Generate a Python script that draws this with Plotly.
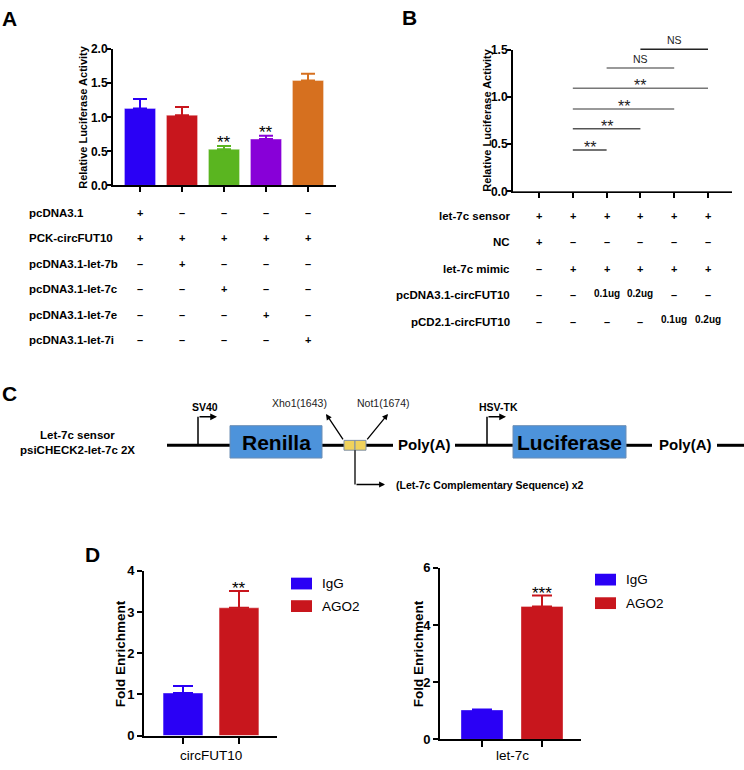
import plotly.graph_objects as go

W, H = 744, 770
FONT = "Arial, Liberation Sans, Helvetica, sans-serif"


def px(x):
    return x / W


def py(y):
    return 1 - y / H


# ---------------- data ----------------
BLUE, RED, GREEN, PURPLE, ORANGE, BLACK = "#2A00F5", "#C8161D", "#5AB520", "#8800D8", "#D6701F", "#000000"

# Panel A
a_values = [1.13, 1.03, 0.53, 0.68, 1.54]
a_errors = [0.14, 0.12, 0.05, 0.05, 0.10]
a_colors = [BLUE, RED, GREEN, PURPLE, ORANGE]
a_sig = ["", "", "**", "**", ""]
a_yticks = [0, 0.5, 1.0, 1.5, 2.0]
a_yticktext = ["0.0", "0.5", "1.0", "1.5", "2.0"]
a_rows = ["pcDNA3.1", "PCK-circFUT10", "pcDNA3.1-let-7b", "pcDNA3.1-let-7c",
          "pcDNA3.1-let-7e", "pcDNA3.1-let-7i"]
a_table = [
    ["+", "–", "–", "–", "–"],
    ["+", "+", "+", "+", "+"],
    ["–", "+", "–", "–", "–"],
    ["–", "–", "+", "–", "–"],
    ["–", "–", "–", "+", "–"],
    ["–", "–", "–", "–", "+"],
]

# Panel B
b_values = [0.99, 0.12, 0.335, 0.57, 0.32, 0.595]
b_errors = [0.13, 0.006, 0.006, 0.025, 0.003, 0.022]
b_colors = [BLUE, RED, GREEN, PURPLE, ORANGE, BLACK]
b_yticks = [0, 0.5, 1.0, 1.5]
b_yticktext = ["0.0", "0.5", "1.0", "1.5"]
b_rows = ["let-7c sensor", "NC", "let-7c mimic", "pcDNA3.1-circFUT10", "pCD2.1-circFUT10"]
b_table = [
    ["+", "+", "+", "+", "+", "+"],
    ["+", "–", "–", "–", "–", "–"],
    ["–", "+", "+", "+", "+", "+"],
    ["–", "–", "0.1ug", "0.2ug", "–", "–"],
    ["–", "–", "–", "–", "0.1ug", "0.2ug"],
]
b_comparisons = [(1, 2), (1, 3), (1, 4), (1, 5), (2, 4), (3, 5)]
b_comp_y = [0.44, 0.665, 0.875, 1.095, 1.31, 1.51]
b_comp_labels = ["**", "**", "**", "**", "NS", "NS"]
b_comp_colors = ["#444444", "#555555", "#777777", "#777777", "#777777", "#222222"]

# Panel D
d_groups = ["circFUT10", "let-7c"]
d_series = ["IgG", "AGO2"]
d_series_colors = [BLUE, RED]
d_igg = [1.03, 1.03]
d_igg_err = [0.17, 0.02]
d_ago2 = [3.10, 4.65]
d_ago2_err = [0.41, 0.38]
d_sig = ["**", "***"]
d_yticks = [[0, 1, 2, 3, 4], [0, 2, 4, 6]]
d_yrange = [[0, 4], [0, 6]]

# ---------------- figure ----------------
fig = go.Figure()
annotations = []
shapes = []


def bold(t):
    return "<b>" + t + "</b>"


def ann(**kw):
    d = dict(showarrow=False, xanchor="center", yanchor="middle")
    d.update(kw)
    annotations.append(d)


def add_bar(x, v, e, c, xa, ya, w, capw):
    fig.add_trace(go.Bar(
        x=[x], y=[v], width=w, marker=dict(color=c, line=dict(color="rgba(255,255,255,0.35)", width=1)),
        error_y=dict(type="data", symmetric=False, array=[e], arrayminus=[0], color=c,
                     thickness=2, width=capw),
        xaxis=xa, yaxis=ya, showlegend=False, hoverinfo="skip"))


# Panel A bars
for i, (v, e, c) in enumerate(zip(a_values, a_errors, a_colors)):
    add_bar(i, v, e, c, "x", "y", 0.74, 7)
    if a_sig[i]:
        ann(x=i, y=v + e, xref="x", yref="y", text=a_sig[i], yanchor="bottom", yshift=-8,
            font=dict(size=17, color="black"))

# Panel B bars
for i, (v, e, c) in enumerate(zip(b_values, b_errors, b_colors)):
    add_bar(i, v, e, c, "x2", "y2", 0.74, 6)

# Panel B comparison lines (on an invisible taller companion axis with the same scale)
for (a, b), yv, lab, lc in zip(b_comparisons, b_comp_y, b_comp_labels, b_comp_colors):
    fig.add_trace(go.Scatter(x=[a, b], y=[yv, yv], mode="lines", line=dict(color=lc, width=1.5),
                             xaxis="x2", yaxis="y5", showlegend=False, hoverinfo="skip"))
    if lab == "NS":
        ann(x=(a + b) / 2, y=yv, xref="x2", yref="y5", text="NS", yanchor="bottom", yshift=1,
            font=dict(size=10.5, color="#222"))
    else:
        ann(x=(a + b) / 2, y=yv, xref="x2", yref="y5", text=lab, yanchor="bottom", yshift=-8,
            font=dict(size=16, color="#222"))

# Panel D bars
d_vals = [d_igg, d_ago2]
d_errs = [d_igg_err, d_ago2_err]
for g in range(2):
    xa, ya = ("x3", "y3") if g == 0 else ("x4", "y4")
    w = 0.71 if g == 0 else 0.70
    for s in range(2):
        add_bar(s, d_vals[s][g], d_errs[s][g], d_series_colors[s], xa, ya, w, 10)
    ann(x=1, y=d_ago2[g] + d_ago2_err[g], xref=xa, yref=ya, text=d_sig[g], yanchor="bottom", yshift=-9,
        font=dict(size=17, color="black"))
    ann(x=0.5, y=py(763), xref=xa, yref="paper", text=d_groups[g], font=dict(size=13.5, color="black"))

# ---------------- axes ----------------
ax_common = dict(showgrid=False, zeroline=False, showline=True, linewidth=2, linecolor="black",
                 ticks="outside", tickwidth=1.5, tickcolor="black", fixedrange=True)
tickfont = dict(size=12, color="black", family=FONT, weight="bold")

layout_axes = dict(
    xaxis=dict(domain=[px(113), px(336)], range=[-0.643, 4.667], tickvals=list(range(5)),
               showticklabels=False, ticklen=5, anchor="y", **ax_common),
    yaxis=dict(domain=[py(182), py(43)], range=[0, 2.0], tickvals=a_yticks, ticktext=a_yticktext,
               ticklen=4, ticklabelstandoff=-3, tickfont=tickfont, anchor="x", **ax_common),
    xaxis2=dict(domain=[px(513), px(732)], range=[-0.77, 5.71], tickvals=list(range(6)),
                showticklabels=False, ticklen=5, anchor="y2", **ax_common),
    yaxis2=dict(domain=[py(188), py(44)], range=[0, 1.5], tickvals=b_yticks, ticktext=b_yticktext,
                ticklen=4, ticklabelstandoff=-3, tickfont=tickfont, anchor="x2", **ax_common),
    yaxis5=dict(domain=[py(188), py(28)], range=[0, 160 / 96.0], visible=False, anchor="x2",
                fixedrange=True),
    xaxis3=dict(domain=[px(144), px(277)], range=[-0.696, 1.679], tickvals=[0, 1],
                showticklabels=False, ticklen=6, anchor="y3", **ax_common),
    yaxis3=dict(domain=[py(743), py(575)], range=d_yrange[0], tickvals=d_yticks[0],
                ticklen=5, tickfont=dict(size=13, color="black", family=FONT, weight="bold"),
                anchor="x3", **ax_common),
    xaxis4=dict(domain=[px(440), px(581)], range=[-0.70, 1.65], tickvals=[0, 1],
                showticklabels=False, ticklen=6, anchor="y4", **ax_common),
    yaxis4=dict(domain=[py(747), py(572)], range=d_yrange[1], tickvals=d_yticks[1],
                ticklen=5, tickfont=dict(size=13, color="black", family=FONT, weight="bold"),
                anchor="x4", **ax_common),
)

# ---------------- axis titles ----------------
for (xc, yc, t, s) in [(83, 112, "Relative Luciferase Activity", 11),
                       (487, 115, "Relative Luciferase Activity", 11),
                       (120, 660, "Fold Enrichment", 13.5),
                       (418, 659, "Fold Enrichment", 13.5)]:
    ann(x=px(xc), y=py(yc), xref="paper", yref="paper", text=bold(t), textangle=-90,
        font=dict(size=s, color="black"))

# ---------------- panel letters ----------------
for (xc, yc, t) in [(9, 12, "A"), (410, 11, "B"), (9, 394, "C"), (92, 558, "D")]:
    ann(x=px(xc), y=py(yc), xref="paper", yref="paper", text=bold(t), font=dict(size=21, color="black"))

# ---------------- tables ----------------
a_row_y = [210, 236, 262, 288, 314, 340]
for r, lab in enumerate(a_rows):
    ann(x=px(27), y=py(a_row_y[r]), xref="paper", yref="paper", text=bold(lab), xanchor="left",
        font=dict(size=11.5, color="black"))
    for i, sym in enumerate(a_table[r]):
        ann(x=i, y=py(a_row_y[r]), xref="x", yref="paper", text=bold(sym), font=dict(size=11, color="black"))

b_row_y = [213, 240, 267, 294, 321]
for r, lab in enumerate(b_rows):
    ann(x=px(512), y=py(b_row_y[r]), xref="paper", yref="paper", text=bold(lab), xanchor="right",
        font=dict(size=11.5, color="black"))
    for i, sym in enumerate(b_table[r]):
        is_dose = "ug" in sym
        ann(x=i, y=py(b_row_y[r] - (2 if is_dose else 0)), xref="x2", yref="paper", text=bold(sym),
            font=dict(size=10 if is_dose else 11, color="black"))

# ---------------- D legends ----------------
for (lx, ly) in [(291, [582, 605]), (595, [578, 602])]:
    for s in range(2):
        shapes.append(dict(type="rect", xref="paper", yref="paper", x0=px(lx), x1=px(lx + 21),
                           y0=py(ly[s] + 12), y1=py(ly[s]), fillcolor=d_series_colors[s],
                           line=dict(width=0)))
        ann(x=px(lx + 29), y=py(ly[s] + 6), xref="paper", yref="paper", text=d_series[s], xanchor="left",
            font=dict(size=13.5, color="black"))

# ---------------- Panel C diagram ----------------
LINE_Y = 447
for (x0, x1) in [(167, 230), (322, 344), (366, 393), (455, 513), (626, 652), (717, 744)]:
    shapes.append(dict(type="line", xref="paper", yref="paper", x0=px(x0), x1=px(x1),
                       y0=py(LINE_Y), y1=py(LINE_Y), line=dict(color="black", width=3)))
BOX_BLUE = "#4D93DB"
for (x0, x1, t) in [(230, 322, "Renilla"), (513, 626, "Luciferase")]:
    shapes.append(dict(type="rect", xref="paper", yref="paper", x0=px(x0), x1=px(x1),
                       y0=py(460), y1=py(427), fillcolor=BOX_BLUE, line=dict(color="#6C8EB5", width=1)))
    ann(x=px((x0 + x1) / 2), y=py(444), xref="paper", yref="paper", text=bold(t),
        font=dict(size=21, color="black"))
for (x0, x1) in [(344, 355), (355, 366)]:
    shapes.append(dict(type="rect", xref="paper", yref="paper", x0=px(x0), x1=px(x1),
                       y0=py(452), y1=py(442), fillcolor="#F0D25C", line=dict(color="#7F8FA6", width=1)))
for xc in [424, 685]:
    ann(x=px(xc), y=py(446), xref="paper", yref="paper", text=bold("Poly(A)"),
        font=dict(size=15, color="black"))


def arrow(x_tail, y_tail, x_head, y_head, width=1.5):
    annotations.append(dict(x=px(x_head), y=py(y_head), ax=x_tail - x_head, ay=y_tail - y_head,
                            xref="paper", yref="paper", axref="pixel", ayref="pixel", text="",
                            showarrow=True, arrowhead=2, arrowsize=0.9, arrowwidth=width,
                            arrowcolor="black"))


# promoters
for (xv, xh, lab, lx) in [(198, 217, "SV40", 205), (487, 506, "HSV-TK", 499)]:
    shapes.append(dict(type="line", xref="paper", yref="paper", x0=px(xv), x1=px(xv),
                       y0=py(LINE_Y), y1=py(418), line=dict(color="black", width=1.5)))
    arrow(xv, 418, xh, 418)
    ann(x=px(lx), y=py(408), xref="paper", yref="paper", text=bold(lab), font=dict(size=10.5, color="black"))
# restriction sites
for (x0, y0, x1, y1, lab, lx) in [(344, 442, 326, 415, "Xho1(1643)", 299),
                                  (366, 442, 388, 415, "Not1(1674)", 383)]:
    arrow(x0, y0, x1, y1, 1.3)
    ann(x=px(lx), y=py(404), xref="paper", yref="paper", text=lab, font=dict(size=10.5, color="#222"))
# complementary sequence
shapes.append(dict(type="line", xref="paper", yref="paper", x0=px(355), x1=px(355),
                   y0=py(452), y1=py(487), line=dict(color="black", width=1.3)))
arrow(355, 487, 385, 487, 1.3)
ann(x=px(394), y=py(487), xref="paper", yref="paper", text=bold("(Let-7c Complementary Sequence) x2"),
    xanchor="left", font=dict(size=10.5, color="black"))
ann(x=px(77), y=py(436), xref="paper", yref="paper", text=bold("Let-7c sensor"),
    font=dict(size=11.5, color="black"))
ann(x=px(77), y=py(452), xref="paper", yref="paper", text=bold("psiCHECK2-let-7c 2X"),
    font=dict(size=11.5, color="black"))

fig.update_layout(
    width=W, height=H, margin=dict(l=0, r=0, t=0, b=0),
    paper_bgcolor="white", plot_bgcolor="white",
    font=dict(family=FONT, color="black"),
    barmode="overlay", showlegend=False,
    annotations=annotations, shapes=shapes,
    **layout_axes,
)

fig.write_html("out.html", config={"displayModeBar": False},
               post_script="document.body.style.margin='0px';document.body.style.overflow='hidden';")
